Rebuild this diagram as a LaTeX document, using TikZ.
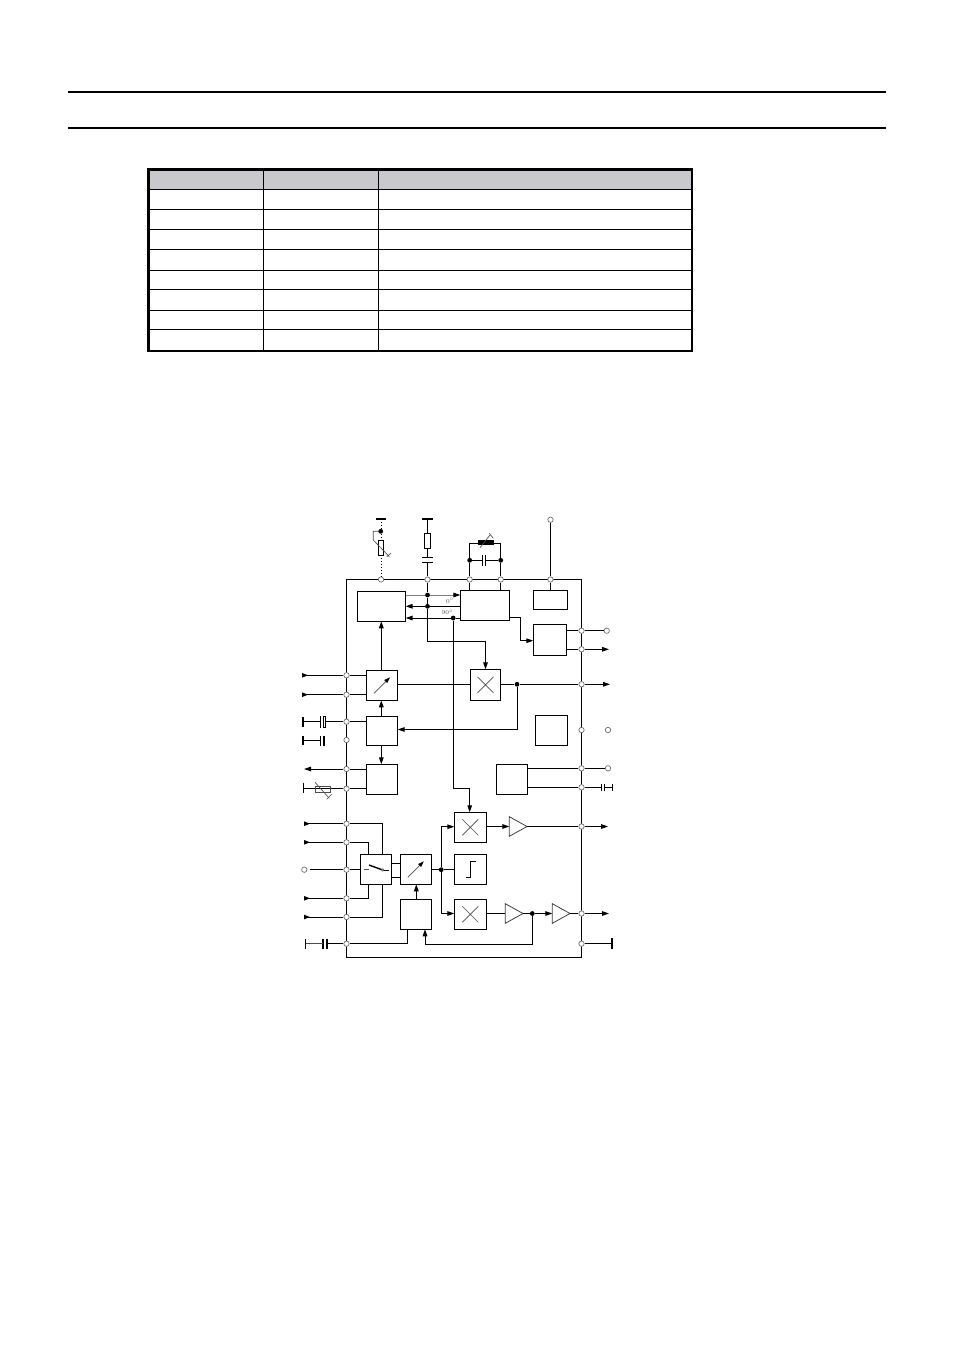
\documentclass[tikz,border=0pt]{standalone}
\usetikzlibrary{arrows.meta,shapes.geometric}
\definecolor{headgray}{HTML}{C9C8CD}
\tikzset{
  wire/.style={draw=black,line width=1pt},
  thin gray/.style={draw=black!70,line width=0.65pt},
  arr/.style={wire,-{Triangle[length=7pt,width=4.6pt]}},
  rarr/.style={wire,{Triangle[length=6pt,width=4.4pt,reversed]}-},
  blk/.style={draw=black,line width=1pt,inner sep=0pt,outer sep=0pt,rectangle},
  pinc/.style={circle,draw=black!60,fill=white,line width=0.65pt,minimum size=5.4pt,inner sep=0pt},
  jdot/.style={circle,fill=black,minimum size=4.8pt,inner sep=0pt},
  amp/.style={isosceles triangle,isosceles triangle stretches,draw=black!75,line width=0.8pt,inner sep=0pt,outer sep=0pt,minimum width=19.6pt,minimum height=17.7pt,anchor=west},
  bar/.style={line width=2pt,draw=black},
  rule/.style={line width=2pt,draw=black},
  cell/.style={line width=1.1pt,draw=black}
}
\newcommand\blk[5]{\node[blk,minimum width={#4-#2},minimum height={#5-#3}] (#1) at ({(#2+#4)/2},{(#3+#5)/2}) {};}
\newcommand\crossmark[1]{\draw[thin gray] ([shift={(-8,-8)}]#1.center) -- ([shift={(8,8)}]#1.center) ([shift={(-8,8)}]#1.center) -- ([shift={(8,-8)}]#1.center);}
\newcommand\knob[1]{\draw[thin gray,-{Triangle[length=6pt,width=4pt,black]}] ([shift={(-8,8)}]#1.center) -- ([shift={(8,-8)}]#1.center);}
\begin{document}
\begin{tikzpicture}[x=1pt,y=-1pt]
\useasboundingbox (0,0) rectangle (954,1349);
\fill[white] (0,0) rectangle (954,1349);
% page rules
\draw[rule] (68,92) -- (886,92);
\draw[rule] (68,127.7) -- (886,127.7);
% table
\fill[headgray] (148.5,169.5) rectangle (692,189.3);
\foreach \y in {189.3,209.3,229.3,249.3,270.3,289.3,310.3,329.3} \draw[cell] (148.5,\y) -- (692,\y);
\foreach \x in {263.5,378.5} \draw[cell] (\x,169.5) -- (\x,350.7);
\draw[line width=2.2pt] (148.5,169.5) rectangle (692,350.7);
% chip outline
\blk{chip}{346.5}{579.5}{581.5}{957.5}
% blocks
\blk{A}{357.3}{591.7}{405.7}{621.3}
\blk{B}{460.3}{590.3}{509.7}{620.3}
\blk{C}{533.3}{590.3}{567.3}{609.3}
\blk{D}{533.3}{624.3}{566.7}{655.3}
\blk{E}{366.3}{670.3}{397.7}{700.3}
\blk{F}{470.3}{669.3}{500.7}{700.3}
\blk{G}{366.3}{716.3}{397.7}{745.3}
\blk{H}{535.3}{715.3}{567.3}{745.3}
\blk{I}{366.3}{764.3}{397.7}{794.3}
\blk{J}{496.3}{764.3}{527.7}{794.3}
\blk{K}{454.3}{812.3}{486.3}{842.3}
\blk{L}{454.3}{854.3}{486.3}{884.3}
\blk{M}{454.3}{899.3}{486.3}{929.3}
\blk{N}{360.3}{854.3}{391.7}{884.3}
\blk{O}{400.3}{854.3}{431.3}{884.3}
\blk{P}{400.3}{899.3}{431.3}{929.3}
\node[amp] (a1) at (509.3,826.5) {};
\node[amp] (a2) at (505.3,913.5) {};
\node[amp] (a3) at (552.3,913.5) {};
% pins top
\node[pinc] (t1) at (381,579.5) {};
\node[pinc] (t2) at (427.5,579.5) {};
\node[pinc] (t3) at (469.7,579.5) {};
\node[pinc] (t4) at (500.7,579.5) {};
\node[pinc] (t5) at (550.5,579.5) {};
% pins left
\node[pinc] (l1) at (346.5,675.3) {};
\node[pinc] (l2) at (346.5,694.7) {};
\node[pinc] (l3) at (346.5,721.7) {};
\node[pinc] (l4) at (346.5,740) {};
\node[pinc] (l5) at (346.5,769) {};
\node[pinc] (l6) at (346.5,788.7) {};
\node[pinc] (l7) at (346.5,823.7) {};
\node[pinc] (l8) at (346.5,842.3) {};
\node[pinc] (l9) at (346.5,869.7) {};
\node[pinc] (l10) at (346.5,898.3) {};
\node[pinc] (l11) at (346.5,917) {};
\node[pinc] (l12) at (346.5,943.7) {};
% pins right
\node[pinc] (r1) at (581.5,630.7) {};
\node[pinc] (r2) at (581.5,649.3) {};
\node[pinc] (r3) at (581.5,684.3) {};
\node[pinc] (r4) at (581.5,730) {};
\node[pinc] (r5) at (581.5,768.3) {};
\node[pinc] (r6) at (581.5,787.3) {};
\node[pinc] (r7) at (581.5,826.5) {};
\node[pinc] (r8) at (581.5,913.5) {};
\node[pinc] (r9) at (581.5,943.7) {};
% outer open terminals
\node[pinc] (o1) at (550.5,519.7) {};
\node[pinc] (o2) at (606.7,630.7) {};
\node[pinc] (o3) at (608,730) {};
\node[pinc] (o4) at (608,768.3) {};
\node[pinc] (o5) at (304.3,869.7) {};
% junction dots
\node[jdot] (d1) at (380.7,531.3) {};
\node[jdot] (d2) at (427.5,595) {};
\node[jdot] (d3) at (427.5,606.3) {};
\node[jdot] (d4) at (453.2,618) {};
\node[jdot] (d5) at (469.7,560.3) {};
\node[jdot] (d6) at (500.7,560.3) {};
\node[jdot] (d7) at (517,684.3) {};
\node[jdot] (d8) at (441.2,869.7) {};
\node[jdot] (d9) at (532.3,913.5) {};
% free ends
\coordinate (bar1) at (381,519);
\coordinate (bar2) at (427.5,519);
\coordinate (fr2) at (609,649.3);
\coordinate (fr3) at (610,684.3);
\coordinate (fr7) at (608,826.5);
\coordinate (fr8) at (609,913.5);
\coordinate (fl1) at (302,675.3);
\coordinate (fl2) at (302,694.7);
\coordinate (fl5) at (304,769);
\coordinate (fl7) at (304,823.7);
\coordinate (fl8) at (304,842.3);
\coordinate (fl10) at (304,898.3);
\coordinate (fl11) at (304,917);
% top left trimmer
\draw[bar] (376,519) -- (386,519);
\draw[wire,dotted,line width=1pt] (bar1) -- (381,540);
\draw[wire,dotted,line width=1pt] (381,555.3) -- (t1);
\draw[blk,fill=white] (378.3,540) rectangle (383.7,555.3);
\draw[thin gray] (d1) -- (373.3,531.3) -- (373.3,540) -- (389.3,556.7);
\draw[thin gray] (391,553.3) -- (386.7,556.7);
% series R C
\draw[bar] (422,519) -- (432.7,519);
\draw[wire] (bar2) -- (427.5,533.3);
\draw[blk,fill=white] (424.6,533.3) rectangle (430,548.7);
\draw[wire] (427.5,548.7) -- (427.5,557.7);
\draw[wire] (422,557.7) -- (432.7,557.7);
\draw[wire] (422,562.3) -- (432.7,562.3);
\draw[wire] (427.5,562.3) -- (t2);
\draw[wire] (t2) -- (d2);
\draw[wire] (d2) -- (d3);
\draw[arr] (d3) -- (427.5,641.3) -- (F.north |- 0,641.3) -- (F.north);
% crystal
\draw[wire] (B.north -| t3) -- (t3);
\draw[wire] (B.north -| t4) -- (t4);
\draw[wire] (t3) -- (d5);
\draw[wire] (t4) -- (d6);
\draw[wire] (d5) -- (469.7,543.3) -- (500.7,543.3) -- (d6);
\draw[fill=black,draw=none] (478,540) rectangle (494,545);
\draw[thin gray] (480,547.7) -- (490,535);
\draw[thin gray] (489.3,533.3) -- (493.3,538.3);
\draw[wire] (d5) -- (482.7,560.3);
\draw[wire] (486,560.3) -- (d6);
\draw[line width=1.3pt] (482.7,555) -- (482.7,565.5);
\draw[line width=1.3pt] (485.8,555) -- (485.8,565.5);
% top right
\draw[wire] (o1) -- (t5);
\draw[wire] (t5) -- (C.north -| t5);
% A-B links
\draw[draw=black!50,line width=0.9pt] (A.east |- d2) -- (d2);
\draw[arr,draw=black!50,-{Triangle[length=7pt,width=4.6pt,black]}] (d2) -- (B.west |- d2);
\draw[arr] (d3) -- (A.east |- d3);
\draw[wire] (B.west |- d3) -- (d3);
\draw[arr] (d4) -- (A.east |- d4);
\draw[wire] (B.west |- d4) -- (d4);
\draw[arr] (d4) -- (453.2,788.7) -- (469.7,788.7) -- (469.7,812.3);
\node[font=\fontsize{6}{6}\selectfont,text=black!70,inner sep=0pt] (deg0) at (450,601) {$0^\circ$};
\node[font=\fontsize{6}{6}\selectfont,text=black!70,inner sep=0pt] (deg90) at (447.5,612.3) {$90^\circ$};
% B to D
\draw[arr] (B.east |- 0,617) -- (520.3,617) -- (520.3,640.7) -- (D.west |- 0,640.7);
% D outputs
\draw[wire] (D.east |- r1) -- (r1);
\draw[wire] (r1) -- (o2);
\draw[wire] (D.east |- r2) -- (r2);
\draw[arr] (r2) -- (fr2);
% E
\draw[arr] (381.3,670.3) -- (381.3,621.3);
\draw[rarr] (fl1) -- (l1);
\draw[wire] (l1) -- (E.west |- l1);
\draw[rarr] (fl2) -- (l2);
\draw[wire] (l2) -- (E.west |- l2);
\draw[wire] (E.east |- r3) -- (F.west |- r3);
\draw[wire] (F.east |- r3) -- (d7);
\draw[wire] (d7) -- (r3);
\draw[arr] (r3) -- (fr3);
\draw[arr] (d7) -- (517,729.5) -- (G.east |- 0,729.5);
\draw[arr] (381.3,716.3) -- (381.3,700.3);
\draw[arr] (381.3,745.3) -- (381.3,764.3);
% G left cap
\draw[line width=2pt] (303,717.3) -- (303,727);
\draw[wire] (303,721.7) -- (320,721.7);
\draw[wire] (320,716.3) -- (320,727.7);
\draw[draw=black,line width=0.7pt] (323.3,716.3) rectangle (325.7,727.7);
\draw[wire] (325.7,721.7) -- (l3);
\draw[wire] (l3) -- (G.west |- l3);
% second cap (no pin link)
\draw[line width=2pt] (303,736.3) -- (303,745.3);
\draw[wire] (303,740.3) -- (320,740.3);
\draw[wire] (320.5,735.5) -- (320.5,745.5);
\draw[line width=1.8pt] (324,735.5) -- (324,745.5);
% I left
\draw[arr] (l5) -- (fl5);
\draw[wire] (I.west |- l5) -- (l5);
\draw[wire] (I.west |- l6) -- (l6);
\draw[wire] (l6) -- (303.7,788.7);
\draw[wire] (303.7,782.7) -- (303.7,792.7);
\draw[thin gray] (315,786.3) rectangle (330,792);
\draw[thin gray] (315,782.3) -- (329.3,798.3);
\draw[thin gray] (326.7,799.3) -- (331.7,794.3);
% J
\draw[wire] (J.east |- r5) -- (r5);
\draw[wire] (r5) -- (o4);
\draw[wire] (J.east |- r6) -- (r6);
\draw[wire] (r6) -- (601.3,787.3);
\draw[wire] (601.3,784) -- (601.3,791);
\draw[wire] (604.3,784) -- (604.3,791);
\draw[wire] (604.3,787.3) -- (612.7,787.3);
\draw[wire] (612.7,783.5) -- (612.7,791);
% signal chain
\draw[wire] (O.east |- d8) -- (d8);
\draw[wire] (d8) -- (L.west |- d8);
\draw[arr] (d8) -- (441.2,826.7) -- (K.west |- 0,826.7);
\draw[arr] (d8) -- (441.2,913.5) -- (M.west |- 0,913.5);
\draw[arr] (K.east |- a1.west) -- (a1.west);
\draw[wire] (a1.east) -- (r7);
\draw[arr] (r7) -- (fr7);
\draw[wire] (M.east |- a2.west) -- (a2.west);
\draw[wire] (a2.east) -- (d9);
\draw[arr] (d9) -- (a3.west);
\draw[wire] (a3.east) -- (r8);
\draw[arr] (r8) -- (fr8);
\draw[arr] (d9) -- (532.3,944.3) -- (425,944.3) -- (425,929.3);
\draw[arr] (416.3,899.3) -- (416.3,884.3);
% switch
\draw[rarr] (fl7) -- (l7);
\draw[wire] (l7) -- (382.3,823.7) -- (382.3,854.3);
\draw[rarr] (fl8) -- (l8);
\draw[wire] (l8) -- (368.7,842.3) -- (368.7,854.3);
\draw[rarr] (fl10) -- (l10);
\draw[wire] (l10) -- (368.7,898.3) -- (368.7,884.3);
\draw[rarr] (fl11) -- (l11);
\draw[wire] (l11) -- (382.3,917) -- (382.3,884.3);
\draw[wire] (310,869.7) -- (l9);
\draw[wire] (l9) -- (N.west |- l9);
\draw[wire] (N.east |- 0,863.3) -- (O.west |- 0,863.3);
\draw[wire] (N.east |- 0,877.3) -- (O.west |- 0,877.3);
\draw[line width=1.4pt] (369,865) -- (382.7,870);
\draw[wire] (383,870) -- (389,870);
\draw[thin gray] (364,869.3) -- (369,869.3);
\draw[thin gray,fill=white] (382.7,870) circle (1.2pt);
% step symbol
\draw[wire] (465.7,877.3) -- (470.3,877.3) -- (470.3,861.3) -- (475.7,861.3);
% bottom left
\draw[wire] (P.south -| 407.3,0) -- (407.3,943.7) -- (l12);
\draw[wire] (l12) -- (327,943.7);
\draw[line width=1.8pt] (323.3,939.3) -- (323.3,949.3);
\draw[line width=1.8pt] (327,939.3) -- (327,949.3);
\draw[thin gray] (305,943.7) -- (323,943.7);
\draw[thin gray,draw=black] (305,939) -- (305,949);
% bottom right
\draw[wire] (r9) -- (612,943.7);
\draw[line width=1.8pt] (612,938) -- (612,949);
% symbols in blocks
\crossmark{F}\crossmark{K}\crossmark{M}
\knob{E}\knob{O}
\end{tikzpicture}
\end{document}
